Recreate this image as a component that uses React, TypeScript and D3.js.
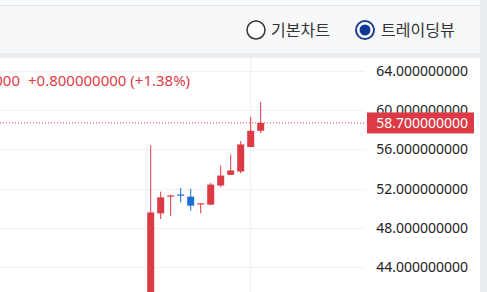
import React, { useEffect, useRef } from "react";
import * as d3 from "d3";

const W = 487;
const H = 292;

// candle data (index order)
const opens = [39.5, 49.47, 51.2, 51.4, 51.18, 50.4, 50.36, 52.31, 53.4, 53.74, 56.24, 57.9];
const highs = [56.41, 51.69, 51.38, 52.07, 51.97, 50.5, 52.58, 54.36, 55.49, 56.85, 59.31, 60.85];
const lows = [38.0, 48.89, 49.23, 50.59, 49.74, 49.47, 50.3, 52.13, 53.4, 53.57, 56.24, 57.67];
const closes = [49.57, 51.11, 51.3, 51.35, 50.26, 50.5, 52.41, 53.33, 53.85, 56.51, 57.9, 58.7];

const priceTicks = [44, 48, 52, 56, 60, 64];
const lastPrice = 58.7;
const changeText = "+0.800000000 (+1.38%)";
const legendHead = "58.700000000";
const radioLabels = ["기본차트", "트레이딩뷰"];

const UP = "#dc3b46";
const DOWN = "#1a6fd6";

export default function App() {
  const ref = useRef<SVGSVGElement>(null);

  useEffect(() => {
    const svg = d3.select(ref.current);
    svg.selectAll("*").remove();

    // backgrounds
    svg.append("rect").attr("x", 0).attr("y", 0).attr("width", W).attr("height", H).attr("fill", "#e9ecf0");
    svg.append("rect").attr("x", 0).attr("y", 0).attr("width", 480).attr("height", 5).attr("fill", "#fafbfc");
    svg.append("rect").attr("x", 0).attr("y", 5).attr("width", 480).attr("height", 1).attr("fill", "#e2e5e9");
    svg.append("rect").attr("x", 0).attr("y", 6).attr("width", 480).attr("height", 47).attr("fill", "#f7f8fa");
    svg.append("rect").attr("x", 0).attr("y", 58).attr("width", 480).attr("height", H - 58).attr("fill", "#ffffff");

    // radio buttons
    const radioX = [256, 365];
    const textX = [271, 381];
    radioLabels.forEach((lab, i) => {
      const g = svg.append("g");
      g.append("circle")
        .attr("cx", radioX[i]).attr("cy", 30).attr("r", 9)
        .attr("fill", "#fff")
        .attr("stroke", i === 0 ? "#333" : "#1d3f8c")
        .attr("stroke-width", i === 0 ? 1.5 : 2);
      if (i === 1) {
        g.append("circle").attr("cx", radioX[i]).attr("cy", 30).attr("r", 5.5).attr("fill", "#0d3a93");
      }
      g.append("text")
        .attr("x", textX[i]).attr("y", 36)
        .attr("font-family", "'Noto Sans CJK KR', 'Noto Sans', sans-serif")
        .attr("font-size", 16)
        .attr("fill", "#333")
        .text(lab);
    });

    const plotRight = 365;
    const y = d3.scaleLinear().domain([44, 64]).range([267, 71]);
    const x = d3.scaleLinear().domain([0, 11]).range([150.7, 260.7]);

    const chart = svg.append("g");
    // clip
    svg.append("defs").append("clipPath").attr("id", "plotclip")
      .append("rect").attr("x", 0).attr("y", 58).attr("width", 480).attr("height", H - 58);
    chart.attr("clip-path", "url(#plotclip)");

    // horizontal grid
    chart.selectAll("line.hg").data(priceTicks).enter().append("line")
      .attr("x1", 0).attr("x2", plotRight)
      .attr("y1", (d) => Math.round(y(d)) + 0.5).attr("y2", (d) => Math.round(y(d)) + 0.5)
      .attr("stroke", "#eff1f3").attr("stroke-width", 1);
    // vertical grid
    chart.append("line")
      .attr("x1", Math.round(x(10)) - 0.5).attr("x2", Math.round(x(10)) - 0.5)
      .attr("y1", 58).attr("y2", H)
      .attr("stroke", "#eff1f3");

    // legend
    chart.append("text")
      .attr("x", 20).attr("y", 86).attr("text-anchor", "end")
      .attr("font-family", "'Noto Sans', sans-serif").attr("font-size", 15)
      .attr("fill", UP).text(legendHead);
    chart.append("text")
      .attr("x", 28).attr("y", 86)
      .attr("font-family", "'Noto Sans', sans-serif").attr("font-size", 15)
      .attr("fill", UP).text(changeText);

    // last price dotted line
    chart.append("line")
      .attr("x1", 0).attr("x2", plotRight)
      .attr("y1", y(lastPrice)).attr("y2", y(lastPrice))
      .attr("stroke", UP).attr("stroke-width", 1).attr("stroke-dasharray", "1 2");

    // candles
    const idx = d3.range(opens.length);
    const cg = chart.selectAll("g.c").data(idx).enter().append("g");
    const col = (i: number) => (closes[i] >= opens[i] ? UP : DOWN);
    cg.append("line")
      .attr("x1", (i) => x(i)).attr("x2", (i) => x(i))
      .attr("y1", (i) => y(highs[i])).attr("y2", (i) => y(lows[i]))
      .attr("stroke", col).attr("stroke-width", 1);
    cg.append("rect")
      .attr("x", (i) => x(i) - 3.5)
      .attr("width", 7)
      .attr("y", (i) => y(Math.max(opens[i], closes[i])))
      .attr("height", (i) => Math.max(1.2, Math.abs(y(opens[i]) - y(closes[i]))))
      .attr("fill", col);

    // price axis labels
    svg.selectAll("text.pt").data(priceTicks).enter().append("text")
      .attr("x", 468).attr("y", (d) => y(d) + 5)
      .attr("text-anchor", "end")
      .attr("font-family", "'Noto Sans', sans-serif").attr("font-size", 14)
      .attr("fill", "#222")
      .text((d) => d.toFixed(9));

    // last price box
    svg.append("rect")
      .attr("x", 367).attr("y", y(lastPrice) - 10.5)
      .attr("width", 107).attr("height", 21)
      .attr("fill", UP);
    svg.append("text")
      .attr("x", 468).attr("y", y(lastPrice) + 5)
      .attr("text-anchor", "end")
      .attr("font-family", "'Noto Sans', sans-serif").attr("font-size", 14)
      .attr("fill", "#fff")
      .text(lastPrice.toFixed(9));
  }, []);

  return (
    <svg
      ref={ref}
      width={W}
      height={H}
      style={{ position: "fixed", left: 0, top: 0, display: "block" }}
    />
  );
}
